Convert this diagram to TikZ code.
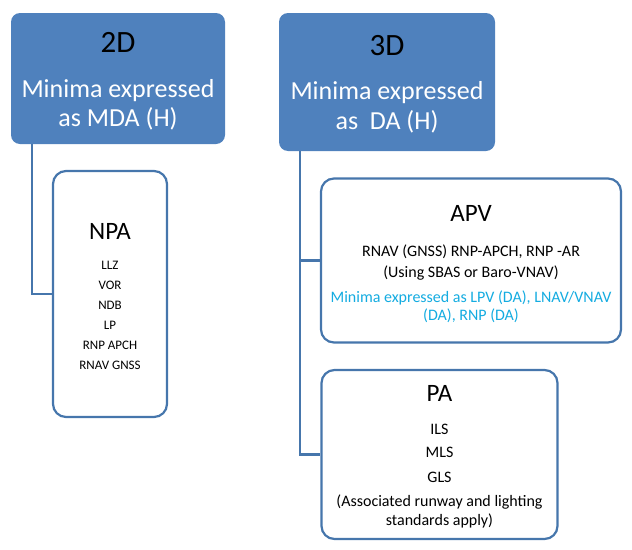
\documentclass[tikz,border=0pt]{standalone}
\usepackage{fontspec}
\setmainfont{Carlito}
\usetikzlibrary{positioning}
\definecolor{boxblue}{RGB}{79,129,189}
\definecolor{edgeblue}{RGB}{70,118,172}
\definecolor{minimacyan}{RGB}{20,172,225}

\tikzset{
  headbox/.style={rectangle, rounded corners=9pt, fill=boxblue, inner sep=0pt},
  subbox/.style={rectangle, rounded corners=13pt, draw=edgeblue, line width=2.2pt, fill=white, inner sep=0pt},
  link/.style={draw=edgeblue, line width=2.5pt},
  txt/.style={anchor=base, inner sep=0pt},
}

\begin{document}
\begin{tikzpicture}[x=1pt,y=-1pt]
\useasboundingbox (0,0) rectangle (632,549);

% 2D branch
\node[headbox, minimum width=214pt, minimum height=131pt] (d2) at (118,78.5) {};
\node[txt, font=\fontsize{31}{36}\selectfont] (d2t) at (118,52) {2D};
\foreach \t/\y [count=\i] in {Minima expressed/97, as MDA (H)/126}
  \node[txt, text=white, font=\fontsize{26}{30}\selectfont] (d2l\i) at (118,\y) {\t};

\node[subbox, minimum width=114pt, minimum height=246pt] (npa) at (110,294) {};
\node[txt, font=\fontsize{25}{30}\selectfont] (npat) at (110,239) {NPA};
\foreach \t/\y [count=\i] in {LLZ/269, VOR/289, NDB/309, LP/329, RNP APCH/349, RNAV GNSS/369}
  \node[txt, font=\fontsize{13}{16}\selectfont] (npa\i) at (110,\y) {\t};

\draw[link] ([xshift=21pt]d2.south west) |- (npa.west);

% 3D branch
\node[headbox, minimum width=216pt, minimum height=138pt] (d3) at (387,82) {};
\node[txt, font=\fontsize{31}{36}\selectfont] (d3t) at (387,55) {3D};
\foreach \t/\y [count=\i] in {Minima expressed/99.5, as~ DA (H)/129}
  \node[txt, text=white, font=\fontsize{26}{30}\selectfont] (d3l\i) at (387,\y) {\t};

\node[subbox, minimum width=300pt, minimum height=164pt] (apv) at (471,260.5) {};
\node[txt, font=\fontsize{25}{30}\selectfont] (apvt) at (471,221.5) {APV};
\foreach \t/\y [count=\i] in {{RNAV (GNSS) RNP-APCH, RNP -AR}/256.5, {{(Using SBAS or Baro-VNAV)}}/277}
  \node[txt, font=\fontsize{16}{19}\selectfont] (apv\i) at (471,\y) {\t};
\foreach \t/\y [count=\i] in {{Minima expressed as LPV (DA), LNAV/VNAV}/302.5, {{(DA), RNP (DA)}}/320.5}
  \node[txt, text=minimacyan, font=\fontsize{16}{19}\selectfont] (apvm\i) at (471,\y) {\t};

\node[subbox, minimum width=236pt, minimum height=169pt] (pa) at (439.5,454.5) {};
\node[txt, font=\fontsize{25}{30}\selectfont] (pat) at (439.5,401.5) {PA};
\foreach \t/\y [count=\i] in {ILS/434, MLS/457.5, GLS/482.5, {{(Associated runway and lighting}}/506.5, {standards apply)}/525}
  \node[txt, font=\fontsize{16}{19}\selectfont] (pa\i) at (439.5,\y) {\t};

\coordinate (trunk) at ([xshift=21pt]d3.south west);
\draw[link] (trunk) |- (apv.west);
\draw[link] (trunk) |- (pa.west);
\end{tikzpicture}
\end{document}
